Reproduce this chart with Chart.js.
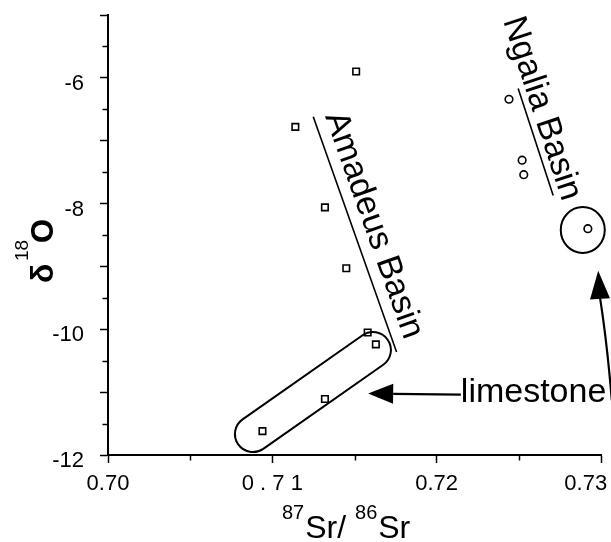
<!DOCTYPE html>
<html>
<head>
<meta charset="utf-8">
<script src="https://cdn.jsdelivr.net/npm/chart.js@4/dist/chart.umd.min.js"></script>
<style>
html,body{margin:0;padding:0;background:#fff;}
#wrap{width:611px;height:542px;position:relative;}
</style>
</head>
<body>
<div id="wrap"><canvas id="c" width="611" height="542"></canvas></div>
<script>
// ---- data ----
const amadeusSr = [0.7151, 0.7114, 0.7132, 0.7145, 0.7158, 0.7163, 0.7132, 0.7094];
const amadeusO  = [-5.90, -6.78, -8.06, -9.03, -10.05, -10.24, -11.11, -11.62];
const ngaliaSr  = [0.7244, 0.7252, 0.7253, 0.7292];
const ngaliaO   = [-6.34, -7.31, -7.54, -8.40];

const xTickValues = [0.70, 0.71, 0.72, 0.73];
const xTickLabels = ['0.70', '0 . 7 1', '0.72', '0.73     '];
const xMinorTicks = [0.705, 0.715, 0.725];
const yTickValues = [-12, -11, -10, -9, -8, -7, -6, -5];
const yTickLabels = ['-12', '', '-10', '', '-8', '', '-6', ''];
const yMinorTicks = [-11.5, -10.5, -9.5, -8.5, -7.5, -6.5, -5.5];

// ---- annotation anchors (data coordinates) ----
const notes = {
  amadeusLine:  { from: [0.71249, -6.62], to: [0.71756, -10.36] },
  amadeusLabel: { text: 'Amadeus Basin', at: [0.71320, -6.609] },
  ngaliaLine:   { from: [0.72496, -6.17], to: [0.72709, -7.87] },
  ngaliaLabel:  { text: 'Ngalia Basin', at: [0.72403, -5.092] },
  limestoneCapsule: { a: [0.70882, -11.667], b: [0.71612, -10.33], r: 18 },
  ngaliaRing:   { c: [0.72889, -8.42], rx: 22, ry: 23 },
  limestoneText:{ text: 'limestone', at: [0.72147, -11.157] },
  leftArrow:    { tail: [0.72147, -11.038], tip: [0.71583, -11.022] },
  upArrow:      { start: [0.73066, -11.13], ctrl: [0.73035, -10.171], base: [0.72993, -9.481], tip: [0.72983, -9.07] }
};

const FONT = '"Liberation Sans", Arial, Helvetica, sans-serif';

const annotate = {
  id: 'annotate',
  afterDraw(chart) {
    const ctx = chart.ctx;
    const xs = chart.scales.x, ys = chart.scales.y;
    const P = p => [xs.getPixelForValue(p[0]), ys.getPixelForValue(p[1])];
    ctx.save();
    ctx.strokeStyle = '#000';
    ctx.fillStyle = '#000';
    ctx.lineCap = 'butt';

    // minor ticks
    ctx.lineWidth = 1.5;
    const axisY = xs.top + 1;
    xMinorTicks.forEach(v => {
      const x = Math.round(xs.getPixelForValue(v)) + 0.5;
      ctx.beginPath(); ctx.moveTo(x, axisY); ctx.lineTo(x, axisY + 4.5); ctx.stroke();
    });
    const axisX = ys.right - 1;
    yMinorTicks.forEach(v => {
      const y = Math.round(ys.getPixelForValue(v)) + 0.5;
      ctx.beginPath(); ctx.moveTo(axisX - 4.5, y); ctx.lineTo(axisX, y); ctx.stroke();
    });

    // basin lines
    ctx.lineWidth = 1.6;
    const line = (a, b) => { ctx.beginPath(); ctx.moveTo(a[0], a[1]); ctx.lineTo(b[0], b[1]); ctx.stroke(); };
    const aF = P(notes.amadeusLine.from), aT = P(notes.amadeusLine.to);
    line(aF, aT);
    const nF = P(notes.ngaliaLine.from), nT = P(notes.ngaliaLine.to);
    line(nF, nT);

    // rotated labels
    const rotText = (txt, at, ang) => {
      ctx.save();
      ctx.translate(at[0], at[1]);
      ctx.rotate(ang);
      ctx.font = '34px ' + FONT;
      ctx.textBaseline = 'alphabetic';
      ctx.textAlign = 'left';
      ctx.fillText(txt, 0, 0);
      ctx.restore();
    };
    rotText(notes.amadeusLabel.text, P(notes.amadeusLabel.at), Math.atan2(aT[1] - aF[1], aT[0] - aF[0]));
    rotText(notes.ngaliaLabel.text, P(notes.ngaliaLabel.at), Math.atan2(nT[1] - nF[1], nT[0] - nF[0]));

    // capsule around limestone points
    ctx.lineWidth = 2;
    const ca = P(notes.limestoneCapsule.a), cb = P(notes.limestoneCapsule.b), r = notes.limestoneCapsule.r;
    const ang = Math.atan2(cb[1] - ca[1], cb[0] - ca[0]);
    ctx.beginPath();
    ctx.arc(cb[0], cb[1], r, ang - Math.PI / 2, ang + Math.PI / 2);
    ctx.arc(ca[0], ca[1], r, ang + Math.PI / 2, ang + 3 * Math.PI / 2);
    ctx.closePath();
    ctx.stroke();

    // ring around Ngalia limestone
    const rc = P(notes.ngaliaRing.c);
    ctx.beginPath();
    ctx.ellipse(rc[0], rc[1], notes.ngaliaRing.rx, notes.ngaliaRing.ry, 0, 0, Math.PI * 2);
    ctx.stroke();

    // limestone label
    const lt = P(notes.limestoneText.at);
    ctx.font = '34px ' + FONT;
    ctx.textBaseline = 'alphabetic';
    ctx.textAlign = 'left';
    ctx.fillText(notes.limestoneText.text, lt[0], lt[1]);

    // arrowheads
    const head = (tip, dir, len, half) => {
      const ux = Math.cos(dir), uy = Math.sin(dir);
      const bx = tip[0] - ux * len, by = tip[1] - uy * len;
      ctx.beginPath();
      ctx.moveTo(tip[0], tip[1]);
      ctx.lineTo(bx - uy * half, by + ux * half);
      ctx.lineTo(bx + uy * half, by - ux * half);
      ctx.closePath();
      ctx.fill();
      return [bx, by];
    };
    // left arrow
    ctx.lineWidth = 2.2;
    const lTail = P(notes.leftArrow.tail), lTip = P(notes.leftArrow.tip);
    const lDir = Math.atan2(lTip[1] - lTail[1], lTip[0] - lTail[0]);
    const lBase = head(lTip, lDir, 25, 10);
    line(lTail, lBase);

    // curved up arrow
    const us = P(notes.upArrow.start), uc = P(notes.upArrow.ctrl), ub = P(notes.upArrow.base), ut = P(notes.upArrow.tip);
    ctx.beginPath();
    ctx.moveTo(us[0], us[1]);
    ctx.quadraticCurveTo(uc[0], uc[1], ub[0], ub[1]);
    ctx.stroke();
    head(ut, Math.atan2(ut[1] - ub[1], ut[0] - ub[0]), 28, 10);

    // y axis title: δ18O (rotated)
    ctx.save();
    ctx.translate(53, 283);
    ctx.rotate(-Math.PI / 2);
    ctx.textBaseline = 'alphabetic';
    ctx.textAlign = 'left';
    ctx.font = 'bold 32px ' + FONT;
    ctx.fillText('δ', 0, 0);
    ctx.font = '19px ' + FONT;
    ctx.fillText('18', 22, -25);
    ctx.font = 'bold 31px ' + FONT;
    ctx.fillText('O', 40, 0);
    ctx.restore();

    // x axis title: 87Sr/ 86Sr
    ctx.textBaseline = 'alphabetic';
    ctx.textAlign = 'left';
    let x = 282;
    const parts = [['87', 20, -19], ['Sr/ ', 32, 0], ['86', 20, -19], ['Sr', 32, 0]];
    parts.forEach(([t, s, dy]) => {
      ctx.font = s + 'px ' + FONT;
      ctx.fillText(t, x, 538 + dy);
      x += ctx.measureText(t).width + (s === 20 ? 1 : 0);
    });

    ctx.restore();
  }
};

const pts = (xa, ya) => xa.map((v, i) => ({ x: v, y: ya[i] }));

new Chart(document.getElementById('c'), {
  type: 'scatter',
  data: {
    datasets: [
      {
        label: 'Amadeus Basin',
        data: pts(amadeusSr, amadeusO),
        pointStyle: 'rect',
        pointRadius: 4.6,
        borderWidth: 1.6,
        borderColor: '#000',
        backgroundColor: '#fff'
      },
      {
        label: 'Ngalia Basin',
        data: pts(ngaliaSr, ngaliaO),
        pointStyle: 'circle',
        pointRadius: 3.8,
        borderWidth: 1.6,
        borderColor: '#000',
        backgroundColor: '#fff'
      }
    ]
  },
  options: {
    responsive: false,
    animation: false,
    devicePixelRatio: 1,
    layout: { padding: { left: 0, right: 10, top: 15, bottom: 0 } },
    plugins: { legend: { display: false }, tooltip: { enabled: false } },
    scales: {
      x: {
        type: 'linear',
        position: 'bottom',
        min: 0.70,
        max: 0.73,
        afterBuildTicks: s => { s.ticks = xTickValues.map(v => ({ value: v })); },
        afterFit: s => { s.height = 87; s.paddingLeft = 0; s.paddingRight = 0; },
        border: { display: true, color: '#000', width: 2 },
        grid: { display: true, drawOnChartArea: false, drawTicks: true, tickLength: 8, tickWidth: 1.5, tickColor: '#000' },
        ticks: {
          autoSkip: false, maxRotation: 0, color: '#000', padding: 8,
          font: { family: FONT, size: 22 },
          callback: (v, i) => xTickLabels[i]
        }
      },
      y: {
        type: 'linear',
        position: 'left',
        min: -12,
        max: -5,
        afterBuildTicks: s => { s.ticks = yTickValues.map(v => ({ value: v })); },
        afterFit: s => { s.width = 108; s.paddingTop = 0; s.paddingBottom = 0; },
        border: { display: true, color: '#000', width: 2 },
        grid: { display: true, drawOnChartArea: false, drawTicks: true, tickLength: 8, tickWidth: 1.5, tickColor: '#000' },
        ticks: {
          autoSkip: false, color: '#000', padding: 16, labelOffset: 6,
          font: { family: FONT, size: 22 },
          callback: (v, i) => yTickLabels[i]
        }
      }
    }
  },
  plugins: [annotate]
});
</script>
</body>
</html>
